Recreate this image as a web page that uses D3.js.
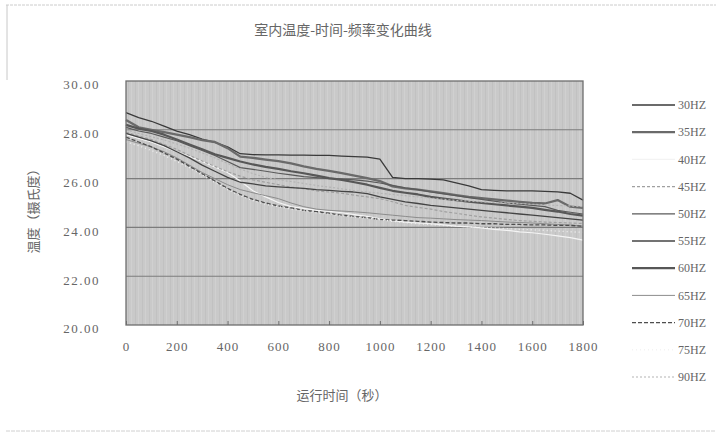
<!DOCTYPE html>
<html><head><meta charset="utf-8">
<script src="https://cdn.jsdelivr.net/npm/d3@7"></script>
<style>
html,body{margin:0;padding:0;background:#fff;}
svg{display:block;}
</style></head>
<body>
<script>
// ---------- DATA ----------
const times = [0,50,100,150,200,250,300,350,400,450,500,550,600,650,700,750,800,850,900,950,1000,1050,1100,1150,1200,1250,1300,1350,1400,1450,1500,1550,1600,1650,1700,1750,1800];
const xTickValues = [0,200,400,600,800,1000,1200,1400,1600,1800];
const yTickValues = [20,22,24,26,28,30];
const seriesNames = ["30HZ","35HZ","40HZ","45HZ","50HZ","55HZ","60HZ","65HZ","70HZ","75HZ","90HZ"];
const hz30 = [28.70,28.50,28.35,28.15,27.95,27.80,27.62,27.48,27.30,27.02,26.98,26.97,26.97,26.96,26.96,26.95,26.95,26.92,26.90,26.88,26.80,26.05,26.00,26.00,25.98,25.95,25.82,25.70,25.55,25.52,25.50,25.50,25.50,25.48,25.46,25.40,25.12];
const hz35 = [28.40,28.10,28.00,27.90,27.80,27.70,27.58,27.50,27.25,26.90,26.85,26.78,26.72,26.62,26.50,26.40,26.32,26.22,26.12,26.02,25.90,25.68,25.60,25.55,25.48,25.40,25.32,25.25,25.20,25.15,25.10,25.05,25.00,24.98,25.12,24.85,24.80];
const hz40 = [27.80,27.65,27.50,27.30,27.10,26.90,26.70,26.48,26.25,25.90,25.50,25.25,25.02,24.85,24.78,24.70,24.66,24.60,24.52,24.45,24.35,24.28,24.22,24.18,24.15,24.10,24.05,24.02,23.98,23.92,23.88,23.82,23.78,23.72,23.65,23.58,23.48];
const hz45 = [27.90,27.75,27.60,27.40,27.20,26.95,26.72,26.50,26.28,26.10,25.95,25.85,25.75,25.65,25.58,25.50,25.45,25.40,25.32,25.25,25.18,25.05,24.90,24.82,24.75,24.65,24.58,24.50,24.43,24.38,24.33,24.28,24.25,24.22,24.20,24.18,24.16];
const hz50 = [28.10,27.95,27.85,27.70,27.55,27.35,27.15,26.95,26.70,26.45,26.38,26.30,26.22,26.15,26.08,26.04,26.00,25.98,25.95,25.90,25.82,25.72,25.62,25.55,25.45,25.38,25.30,25.22,25.15,25.08,25.00,24.95,24.90,24.85,24.70,24.62,24.55];
const hz55 = [27.85,27.70,27.55,27.35,27.10,26.85,26.55,26.30,26.05,25.85,25.78,25.70,25.66,25.63,25.60,25.55,25.52,25.48,25.45,25.38,25.25,25.15,25.05,24.98,24.90,24.85,24.80,24.75,24.70,24.65,24.60,24.55,24.50,24.45,24.40,24.35,24.30];
const hz60 = [28.20,28.05,27.95,27.80,27.60,27.40,27.20,27.00,26.85,26.70,26.58,26.48,26.40,26.30,26.22,26.12,26.02,25.95,25.85,25.75,25.62,25.50,25.42,25.35,25.25,25.18,25.12,25.05,25.00,24.95,24.90,24.85,24.80,24.72,24.65,24.55,24.48];
const hz65 = [27.60,27.45,27.30,27.10,26.85,26.55,26.25,26.00,25.75,25.55,25.42,25.30,25.18,25.00,24.85,24.75,24.70,24.67,24.64,24.60,24.55,24.50,24.45,24.40,24.38,24.35,24.32,24.30,24.28,24.25,24.22,24.20,24.18,24.15,24.12,24.10,24.05];
const hz70 = [27.70,27.50,27.30,27.05,26.80,26.50,26.20,25.90,25.60,25.35,25.15,25.00,24.88,24.80,24.70,24.65,24.58,24.50,24.45,24.40,24.33,24.30,24.28,24.25,24.22,24.20,24.18,24.18,24.15,24.15,24.12,24.12,24.10,24.10,24.08,24.08,24.05];
const hz75 = [27.50,27.35,27.15,26.95,26.70,26.45,26.15,25.85,25.55,25.30,25.10,24.95,24.85,24.75,24.68,24.60,24.55,24.48,24.42,24.38,24.32,24.25,24.20,24.15,24.12,24.08,24.05,24.02,24.00,23.98,23.95,23.92,23.90,23.88,23.85,23.82,23.80];
const hz90 = [28.00,27.85,27.72,27.58,27.42,27.25,27.05,26.85,26.62,26.40,26.20,26.05,25.95,25.88,25.80,25.72,25.65,25.58,25.50,25.45,25.40,25.35,25.30,25.25,25.20,25.15,25.10,25.08,25.05,25.02,25.00,24.98,24.95,24.92,24.90,24.88,24.85];
const seriesValues = [hz30,hz35,hz40,hz45,hz50,hz55,hz60,hz65,hz70,hz75,hz90];

// ---------- STYLE ----------
const styles = [
  {c:"#3a3a3a", w:1.3, d:null},
  {c:"#6a6a6a", w:2.3, d:null},
  {c:"#f4f4f4", w:1.2, d:null},
  {c:"#a0a0a0", w:1.2, d:"3,2"},
  {c:"#5a5a5a", w:1.2, d:null},
  {c:"#444444", w:1.3, d:null},
  {c:"#575757", w:2.2, d:null},
  {c:"#8c8c8c", w:1.0, d:null},
  {c:"#4e4e4e", w:1.3, d:"4,2"},
  {c:"#f0f0f0", w:1.4, d:"1,3"},
  {c:"#b4b4b4", w:1.2, d:"2,2"}
];

const W = 722, H = 433;
const plot = {l:126, r:583, t:81, b:325};
const svg = d3.select("body").append("svg").attr("width",W).attr("height",H);

// outer scan border
svg.append("line").attr("x1",6).attr("x2",716).attr("y1",5).attr("y2",5)
  .attr("stroke","#cccccc").attr("stroke-width",1).attr("stroke-dasharray","3,1");
svg.append("line").attr("x1",7).attr("x2",7).attr("y1",5).attr("y2",80)
  .attr("stroke","#c8c8c8").attr("stroke-width",1);
svg.append("line").attr("x1",6).attr("x2",716).attr("y1",431).attr("y2",431)
  .attr("stroke","#d0d0d0").attr("stroke-width",1).attr("stroke-dasharray","4,1");

const x = d3.scaleLinear().domain([0,1800]).range([plot.l, plot.r]);
const y = d3.scaleLinear().domain([20,30]).range([plot.b, plot.t]);

// plot background with subtle vertical streak texture
const defs = svg.append("defs");
const pat = defs.append("pattern").attr("id","streak").attr("patternUnits","userSpaceOnUse")
  .attr("width",7).attr("height",10);
pat.append("rect").attr("width",7).attr("height",10).attr("fill","#c9c9c9");
pat.append("rect").attr("x",2).attr("width",1).attr("height",10).attr("fill","#c1c1c1");
pat.append("rect").attr("x",5).attr("width",1).attr("height",10).attr("fill","#d0d0d0");
svg.append("rect").attr("x",plot.l).attr("y",plot.t)
  .attr("width",plot.r-plot.l).attr("height",plot.b-plot.t).attr("fill","url(#streak)");

// gridlines
svg.append("g").selectAll("line").data(yTickValues.filter(v=>v>20 && v<30)).join("line")
  .attr("x1",plot.l).attr("x2",plot.r).attr("y1",d=>y(d)).attr("y2",d=>y(d))
  .attr("stroke","#7c7c7c").attr("stroke-width",1.1);

// series
const line = d3.line().x((d,i)=>x(times[i])).y(d=>y(d));
const gLines = svg.append("g");
seriesValues.forEach((vals,k)=>{
  const s = styles[k];
  gLines.append("path").datum(vals).attr("d",line).attr("fill","none")
    .attr("stroke",s.c).attr("stroke-width",s.w)
    .attr("stroke-dasharray",s.d).attr("stroke-linejoin","round");
});

// plot border
svg.append("rect").attr("x",plot.l).attr("y",plot.t)
  .attr("width",plot.r-plot.l).attr("height",plot.b-plot.t)
  .attr("fill","none").attr("stroke","#6e6e6e").attr("stroke-width",1.3);

const numFont = "'Liberation Serif', 'DejaVu Serif', serif";
const cjkFont = "'Noto Sans CJK SC', sans-serif";

// axes
const xAxis = d3.axisBottom(x).tickValues(xTickValues).tickSize(3).tickPadding(14)
  .tickFormat(d=>d3.format("d")(d));
const gx = svg.append("g").attr("transform",`translate(0,${plot.b})`).call(xAxis);
gx.select(".domain").remove();
gx.selectAll(".tick line").attr("stroke","#6e6e6e").attr("y2",-4);
gx.selectAll(".tick text").attr("font-family",numFont).attr("font-size",13)
  .attr("fill","#666").attr("letter-spacing","1px");

const yAxis = d3.axisLeft(y).tickValues(yTickValues).tickSize(0).tickPadding(26)
  .tickFormat(d3.format(".2f"));
const gy = svg.append("g").attr("transform",`translate(${plot.l},0)`).call(yAxis);
gy.select(".domain").remove();
gy.selectAll(".tick text").attr("font-family",numFont).attr("font-size",13)
  .attr("fill","#666").attr("letter-spacing","1.5px").attr("dy","0.6em");

// titles
svg.append("text").attr("x",343).attr("y",35).attr("text-anchor","middle")
  .attr("font-family",cjkFont).attr("font-size",14).attr("fill","#666")
  .text("室内温度-时间-频率变化曲线");
svg.append("text").attr("transform","translate(38,208) rotate(-90)").attr("text-anchor","middle")
  .attr("font-family",cjkFont).attr("font-size",13).attr("fill","#666")
  .text("温度（摄氏度）");
svg.append("text").attr("x",342).attr("y",400).attr("text-anchor","middle")
  .attr("font-family",cjkFont).attr("font-size",13).attr("fill","#666")
  .text("运行时间（秒）");

// legend
const leg = svg.append("g").attr("transform","translate(632,105)");
const items = leg.selectAll("g").data(seriesNames).join("g")
  .attr("transform",(d,i)=>`translate(0,${i*27.2})`);
items.append("line").attr("x1",0).attr("x2",43).attr("y1",0).attr("y2",0)
  .attr("stroke",(d,i)=>styles[i].c==="#f4f4f4"||styles[i].c==="#f0f0f0" ? "#f3f3f3" : styles[i].c)
  .attr("stroke-width",(d,i)=>Math.min(styles[i].w,2.2))
  .attr("stroke-dasharray",(d,i)=>styles[i].d);
items.append("text").attr("x",46).attr("y",0).attr("dy","0.35em")
  .attr("font-family",numFont).attr("font-size",12).attr("fill","#666")
  .text(d=>d);
</script>
</body></html>
